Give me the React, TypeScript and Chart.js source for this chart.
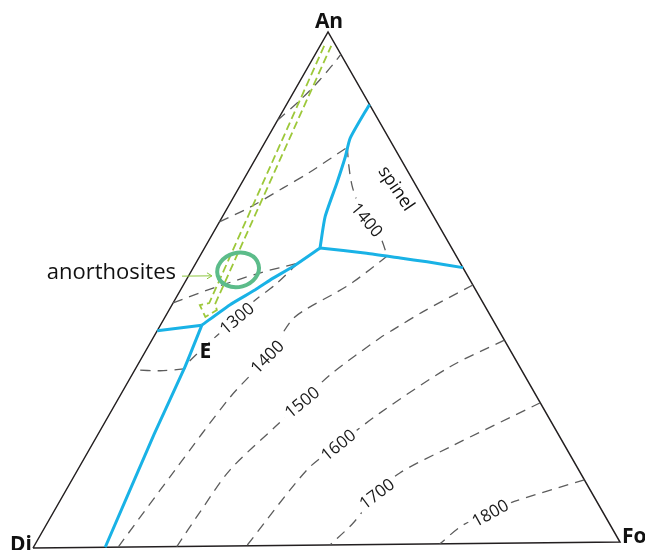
import React, { useEffect, useRef } from "react";
import { Chart, registerables } from "chart.js";

Chart.register(...registerables);

// Compositions as [Fo wt%, An wt%]; Di is the remainder.
type Pt = [number, number];

const frame: Pt[] = [[0, 0], [100, 0], [0, 100], [0, 0]];

// Field boundaries (cotectic curves); E = eutectic, P = peritectic
const cotecticDiFo: Pt[] = [[7.1, 43.1], [8.3, 35.0], [9.6, 22.0], [12.3, 0]];
const cotecticDiAn: Pt[] = [[7.1, 43.1], [0, 42.1]];
const cotecticAnFo: Pt[] = [[7.1, 43.1], [9.9, 47.0], [12.8, 49.9], [14.4, 51.8], [17.2, 54.6], [19.8, 57.9]];
const cotecticAnSp: Pt[] = [[19.8, 57.9], [17.6, 64.0], [16.3, 70.6], [15.2, 75.6], [14.2, 79.3], [14.2, 85.8]];
const cotecticSpFo: Pt[] = [[19.8, 57.9], [28.3, 56.8], [34.5, 55.8], [39.5, 55.0], [46.2, 53.8]];

// Isotherms (°C)
const iso1300Di: Pt[] = [[8.4, 34.6], [4.4, 34.3], [0, 34.5]];
const iso1300Fo: Pt[] = [[17.5, 55.0], [15.7, 50.8], [13.8, 47.9], [12.4, 44.4], [10.3, 40.2], [8.4, 35.8], [8.4, 34.6]];
const iso1300An: Pt[] = [[0, 47.5], [5.4, 50.3], [12.0, 53.2], [17.5, 55.0]];
const iso1400An: Pt[] = [[0, 63.2], [3.8, 66.0], [7.6, 69.7], [10.6, 72.7], [14.6, 77.5]];
const iso1400Sp: Pt[] = [[14.6, 77.5], [16.6, 74.0], [19.1, 70.1], [21.4, 67.2], [25.1, 63.3], [28.9, 60.1], [32.1, 56.2]];
const iso1400Fo: Pt[] = [[32.1, 56.2], [28.8, 51.2], [27.0, 49.3], [23.3, 45.9], [22.0, 43.9], [21.4, 36.8], [19.0, 29.0], [16.7, 14.9], [14.5, 0]];
const iso1500An: Pt[] = [[0, 82.9], [1.9, 86.8], [3.3, 90.7], [4.1, 94.1], [4.4, 95.6]];
const iso1500Fo: Pt[] = [[49.6, 50.4], [43.8, 45.4], [40.3, 41.8], [38.9, 40.3], [33.9, 33.1], [31.8, 27.9], [29.6, 23.1], [26.1, 14.8], [25.1, 6.7], [24.5, 0]];
const iso1600: Pt[] = [[60.4, 39.6], [53.7, 34.5], [46.2, 25.6], [42.2, 19.5], [39.3, 14.7], [36.4, 0]];
const iso1700: Pt[] = [[72.7, 27.3], [61.6, 18.9], [55.5, 13.9], [53.6, 9.9], [52.4, 4.2], [50.6, 0]];
const iso1800: Pt[] = [[87.8, 12.2], [77.3, 7.8], [74.9, 5.9], [71.4, 3.6], [69.3, 0]];

const isoLabels = ["1300", "1400", "1500", "1600", "1700", "1800", "1400"];
const isoLabelAt: Pt[] = [[12.4, 44.4], [21.4, 36.8], [31.8, 27.9], [42.2, 19.5], [53.6, 9.9], [74.9, 5.9], [25.1, 63.3]];
const isoLabelAngle = [-40, -45, -39, -39, -37, -29, 50];

// Crystallisation path of anorthosite melts (hollow arrow)
const anorthositePath: Pt[] = [[0.7, 97.3], [6.2, 47.4], [4.8, 47.0], [6.9, 44.7], [8.2, 46.0], [7.3, 47.2], [1.9, 97.3]];
const anorthositeCentre: Pt = [7.9, 53.8];
const anorthositeRadii = [3.6, 3.3];
const pointer: Pt[] = [[-1.1, 52.7], [4.0, 52.7]];

const vertexNames = ["Di", "Fo", "An"];
const fieldNames = ["E", "spinel", "anorthosites"];
const fieldNameAt: Pt[] = [[10.3, 37.9], [27.0, 69.3], [-1.1, 52.7]];

// Drawn frame: apex offset and slight tilt of the base
const SKEW_X = 0.5026;
const TILT_Y = 0.0116;
const toXY = ([fo, an]: Pt) => ({ x: fo + an * SKEW_X, y: an + fo * TILT_Y });

const BLUE = "#19b2e6";
const GREY = "#5c5c5c";
const LIME = "#9dc83a";
const FONT = '"Open Sans", "DejaVu Sans", sans-serif';

const line = (data: Pt[], color: string, width: number, dash: number[] = [], tension = 0.3) => ({
  data: data.map(toXY),
  showLine: true,
  borderColor: color,
  borderWidth: width,
  borderDash: dash,
  pointRadius: 0,
  tension,
  fill: false,
  clip: false as const,
});

const annotate = {
  id: "annotate",
  afterDatasetsDraw(chart: any) {
    const { ctx, scales } = chart;
    const px = (p: Pt): [number, number] => {
      const q = toXY(p);
      return [scales.x.getPixelForValue(q.x), scales.y.getPixelForValue(q.y)];
    };
    ctx.save();

    // anorthosite field
    const [ex, ey] = px(anorthositeCentre);
    const rx = scales.x.getPixelForValue(anorthositeRadii[0]) - scales.x.getPixelForValue(0);
    const ry = scales.y.getPixelForValue(0) - scales.y.getPixelForValue(anorthositeRadii[1]);
    ctx.beginPath();
    ctx.ellipse(ex, ey, rx, ry, (-15 * Math.PI) / 180, 0, Math.PI * 2);
    ctx.strokeStyle = "#5cbc8a";
    ctx.lineWidth = 4;
    ctx.stroke();

    // pointer head
    const [hx, hy] = px(pointer[1]);
    ctx.beginPath();
    ctx.moveTo(hx - 5, hy - 3);
    ctx.lineTo(hx, hy);
    ctx.lineTo(hx - 5, hy + 3);
    ctx.strokeStyle = "#8dc63f";
    ctx.lineWidth = 1;
    ctx.stroke();

    // isotherm labels
    ctx.font = `17px ${FONT}`;
    ctx.textAlign = "center";
    ctx.textBaseline = "middle";
    isoLabels.forEach((t, i) => {
      const [cx, cy] = px(isoLabelAt[i]);
      ctx.save();
      ctx.translate(cx, cy);
      ctx.rotate((isoLabelAngle[i] * Math.PI) / 180);
      const w = ctx.measureText(t).width;
      ctx.fillStyle = "#fff";
      ctx.fillRect(-w / 2 - 4, -8, w + 8, 16);
      ctx.fillStyle = "#1a1a1a";
      ctx.fillText(t, 0, 1);
      ctx.restore();
    });

    // field names
    const [Ex, Ey] = px(fieldNameAt[0]);
    ctx.font = `bold 21px ${FONT}`;
    ctx.fillStyle = "#111";
    ctx.fillText(fieldNames[0], Ex, Ey);

    const [sx, sy] = px(fieldNameAt[1]);
    ctx.save();
    ctx.translate(sx, sy);
    ctx.rotate((56 * Math.PI) / 180);
    ctx.font = `18px ${FONT}`;
    ctx.fillText(fieldNames[1], 0, 0);
    ctx.restore();

    const [ax, ay] = px(fieldNameAt[2]);
    ctx.font = `22px ${FONT}`;
    ctx.textAlign = "right";
    ctx.fillText(fieldNames[2], ax - 6, ay - 3);

    // corner names
    const [dx, dy] = px(frame[0]);
    const [fx, fy] = px(frame[1]);
    const [nx, ny] = px(frame[2]);
    ctx.font = `bold 21px ${FONT}`;
    ctx.textBaseline = "alphabetic";
    ctx.textAlign = "right";
    ctx.fillText(vertexNames[0], dx - 1, dy + 3);
    ctx.textAlign = "left";
    ctx.fillText(vertexNames[1], fx + 2, fy + 1);
    ctx.textAlign = "center";
    ctx.fillText(vertexNames[2], nx + 1, ny - 4);

    ctx.restore();
  },
};

export default function App() {
  const ref = useRef<HTMLCanvasElement>(null);

  useEffect(() => {
    if (!ref.current) return;
    const dash = [10, 7];
    const chart = new Chart(ref.current, {
      type: "scatter",
      data: {
        datasets: [
          line(cotecticDiFo, BLUE, 3, [], 0.15),
          line(cotecticDiAn, BLUE, 3, [], 0),
          line(cotecticAnFo, BLUE, 3, [], 0.2),
          line(cotecticAnSp, BLUE, 3, [], 0.2),
          line(cotecticSpFo, BLUE, 3, [], 0.2),
          line(pointer, "#8dc63f", 1, [], 0),
          line(anorthositePath, LIME, 1.8, [8, 4], 0),
          line(iso1300Di, GREY, 1.3, dash),
          line(iso1300Fo, GREY, 1.3, dash),
          line(iso1300An, GREY, 1.3, dash),
          line(iso1400An, GREY, 1.3, dash),
          line(iso1400Sp, GREY, 1.3, dash),
          line(iso1400Fo, GREY, 1.3, dash),
          line(iso1500An, GREY, 1.3, dash),
          line(iso1500Fo, GREY, 1.3, dash),
          line(iso1600, GREY, 1.3, dash),
          line(iso1700, GREY, 1.3, dash),
          line(iso1800, GREY, 1.3, dash),
          line(frame, "#231f20", 1.5, [], 0),
        ],
      },
      options: {
        animation: false,
        responsive: false,
        devicePixelRatio: 1,
        layout: { padding: { left: 33, right: 25, top: 32, bottom: 2 } },
        scales: {
          x: { type: "linear", min: 0, max: 100, display: false },
          y: { type: "linear", min: 0, max: 100, display: false },
        },
        plugins: { legend: { display: false }, tooltip: { enabled: false } },
      },
      plugins: [annotate],
    });
    return () => chart.destroy();
  }, []);

  return (
    <div style={{ position: "absolute", left: 0, top: 0, width: 645, height: 550, background: "#fff" }}>
      <canvas ref={ref} width={645} height={550} />
    </div>
  );
}
